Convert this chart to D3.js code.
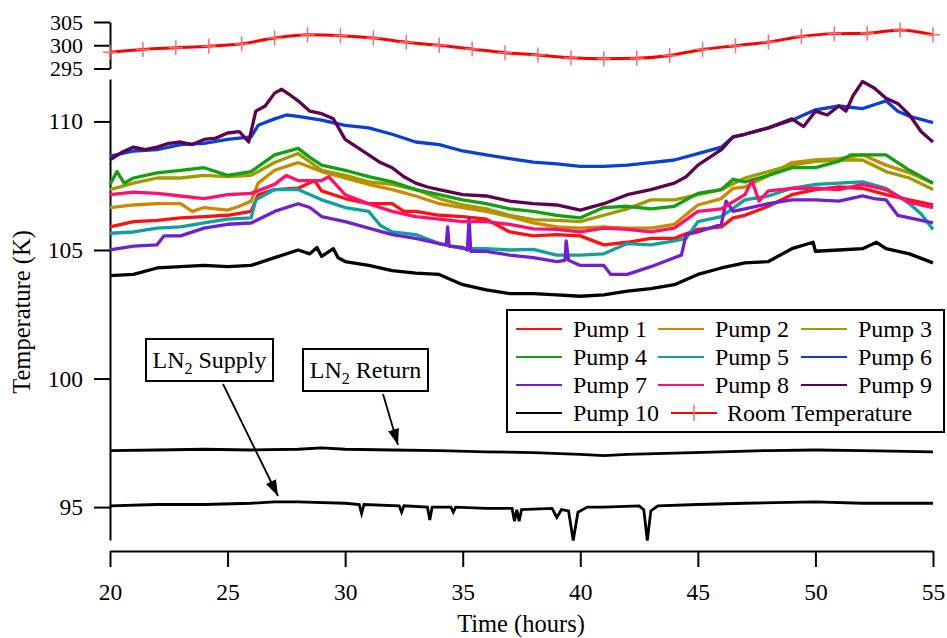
<!DOCTYPE html>
<html><head><meta charset="utf-8">
<script src="https://cdn.jsdelivr.net/npm/d3@7"></script>
<style>
body{margin:0;background:#fff;}
</style></head>
<body><svg id="c" width="947" height="638"></svg>
<script>
const pumpNames = ["Pump 1","Pump 2","Pump 3","Pump 4","Pump 5","Pump 6","Pump 7","Pump 8","Pump 9","Pump 10"];
const pumpColors = ["#ff1010","#cc8800","#a09a00","#10a010","#10a0a0","#0a40d8","#7020d0","#ff1070","#600050","#000000"];
const xTicks = [20,25,30,35,40,45,50,55];
const yTicks = [95,100,105,110];
const roomTicks = [295,300,305];

const pump1 = [[20,105.9],[21,106.1],[22,106.15],[23,106.25],[24,106.3],[25,106.35],[26,106.5],[26.3,107.15],[27,107.35],[28,107.4],[28.7,107.7],[29,107.3],[30,107.0],[31,106.8],[32,106.8],[32.5,106.5],[33,106.5],[34,106.35],[35,106.3],[36,106.2],[37,105.7],[38,105.55],[39,105.6],[40,105.55],[41,105.2],[42,105.3],[43,105.45],[44,105.45],[45,105.8],[46,105.9],[46.5,106.25],[47,106.35],[48,106.7],[49,107.15],[50,107.35],[51,107.45],[52,107.4],[53,107.15],[54,106.95],[55,106.75]];
const pump2 = [[20,106.65],[21,106.75],[22,106.8],[23,106.8],[23.5,106.5],[24,106.65],[25,106.55],[25.5,106.7],[26,106.9],[26.3,107.6],[27,108.1],[28,108.4],[29,108.05],[30,107.8],[31,107.55],[32,107.35],[33,107.1],[34,106.8],[35,106.65],[36,106.5],[37,106.3],[38,106.05],[39,105.9],[40,105.85],[41,105.9],[42,105.85],[43,105.85],[44,106.0],[45,106.75],[46,107.0],[46.5,107.4],[47,107.45],[48,107.9],[49,108.4],[50,108.5],[51,108.55],[52,108.7],[53,108.3],[54,108.0],[55,107.6]];
const pump3 = [[20,107.35],[21,107.6],[22,107.8],[23,107.8],[24,107.9],[25,107.85],[26,107.9],[27,108.4],[28,108.75],[29,108.1],[30,107.9],[31,107.65],[32,107.55],[33,107.35],[34,107.0],[35,106.75],[36,106.6],[37,106.35],[38,106.18],[39,106.15],[40,106.1],[41,106.35],[42,106.6],[43,106.95],[44,106.95],[45,107.15],[46,107.35],[47,107.8],[48,108.05],[49,108.3],[50,108.45],[51,108.5],[52,108.5],[53,108.05],[54,107.8],[55,107.35]];
const pump4 = [[20,107.55],[20.3,108.05],[20.6,107.6],[21,107.8],[22,108.0],[23,108.1],[24,108.2],[25,107.9],[26,108.05],[27,108.7],[28,108.95],[28.5,108.6],[29,108.3],[30,108.1],[31,107.85],[32,107.65],[33,107.35],[34,107.15],[35,106.95],[36,106.8],[37,106.6],[38,106.5],[39,106.35],[40,106.25],[41,106.65],[42,106.7],[43,106.6],[44,106.7],[45,107.2],[46,107.35],[46.5,107.75],[47,107.65],[48,107.9],[49,108.2],[50,108.2],[51,108.45],[51.5,108.7],[52,108.7],[53,108.7],[53.5,108.4],[54,108.1],[55,107.6]];
const pump5 = [[20,105.65],[21,105.7],[22,105.85],[23,105.9],[24,106.05],[25,106.2],[26,106.25],[26.2,106.95],[27,107.35],[28,107.35],[29,106.95],[30,106.65],[31,106.5],[31.5,105.95],[32,105.7],[33,105.6],[34,105.25],[35,105.05],[36,105.05],[37,105.0],[38,105.02],[39,104.8],[40,104.8],[41,104.85],[42,105.25],[43,105.2],[44,105.35],[44.5,105.45],[45,106.1],[46,106.3],[47,106.95],[48,107.1],[49,107.4],[50,107.55],[51,107.6],[52,107.65],[53,107.4],[54,106.8],[54.5,106.4],[55,105.8]];
const pump6 = [[20,108.65],[21,108.85],[22,108.9],[23,109.1],[24,109.15],[25,109.3],[26,109.4],[26.3,109.85],[27,110.1],[27.5,110.25],[28,110.2],[29,110.05],[30,109.85],[31,109.75],[32,109.5],[33,109.2],[34,109.1],[35,108.85],[36,108.7],[37,108.55],[38,108.42],[39,108.35],[40,108.25],[41,108.25],[42,108.3],[43,108.4],[44,108.5],[45,108.75],[46,109.0],[46.5,109.4],[47,109.5],[48,109.75],[49,110.05],[50,110.45],[51,110.6],[52,110.5],[52.5,110.65],[53,110.8],[53.5,110.4],[54,110.2],[55,109.95]];
const pump7 = [[20,105.0],[21,105.15],[22,105.2],[22.3,105.55],[23,105.55],[24,105.85],[25,106.0],[26,106.05],[27,106.5],[28,106.8],[28.5,106.65],[29,106.3],[30,106.1],[31,105.85],[32,105.6],[33,105.45],[34,105.25],[34.3,105.2],[34.36,105.9],[34.42,105.15],[35,105.1],[35.2,105.0],[35.27,106.25],[35.34,104.95],[36,104.95],[37,104.8],[38,104.7],[39,104.55],[39.35,104.6],[39.4,105.35],[39.5,104.6],[40,104.4],[41,104.4],[41.3,104.05],[42,104.05],[43,104.35],[44,104.7],[44.3,104.8],[44.5,105.6],[45,105.7],[46,106.0],[46.2,106.9],[46.5,106.5],[47,106.6],[48,106.8],[49,106.95],[50,106.95],[51,106.9],[52,107.1],[52.5,107.0],[53,106.95],[53.5,106.35],[54,106.25],[55,106.05]];
const pump8 = [[20,107.15],[21,107.25],[22,107.2],[23,107.1],[24,107.0],[25,107.15],[26,107.2],[27,107.55],[27.5,107.9],[28,107.7],[29,107.7],[29.3,107.85],[30,107.15],[31,106.8],[32,106.5],[33,106.3],[34,106.2],[35,106.1],[36,106.1],[37,106.0],[38,105.82],[39,105.8],[40,105.7],[41,105.85],[42,105.8],[43,105.7],[44,105.85],[45,106.5],[46,106.6],[47,107.15],[47.3,107.7],[47.6,106.9],[48,107.3],[49,107.4],[50,107.4],[51,107.35],[52,107.55],[53,107.35],[54,106.85],[55,106.65]];
const pump9 = [[20,108.5],[20.5,108.8],[21,109.0],[21.5,108.9],[22,109.0],[22.5,109.15],[23,109.2],[23.5,109.1],[24,109.3],[24.5,109.35],[25,109.55],[25.5,109.6],[25.9,109.2],[26.2,110.4],[26.6,110.6],[27,111.1],[27.3,111.25],[27.7,111.0],[28,110.8],[28.5,110.4],[29,110.3],[29.5,110.1],[30,109.3],[30.5,109.0],[31,108.7],[31.5,108.4],[32,108.2],[32.5,107.85],[33,107.6],[33.5,107.45],[34,107.35],[35,107.15],[36,107.1],[37,106.9],[38,106.8],[39,106.75],[40,106.55],[41,106.8],[42,107.15],[43,107.35],[44,107.6],[44.5,107.85],[45,108.3],[46,108.9],[46.5,109.4],[47,109.5],[48,109.75],[49,110.1],[49.5,109.8],[50,110.4],[50.5,110.25],[51,110.6],[51.3,110.4],[51.6,111.0],[52,111.55],[52.5,111.3],[53,110.9],[53.5,110.7],[54,110.25],[54.5,109.6],[55,109.2]];
const pump10 = [[20,104.0],[21,104.05],[22,104.3],[23,104.35],[24,104.4],[25,104.35],[26,104.4],[27,104.7],[28,105.0],[28.5,104.85],[28.8,105.1],[29,104.75],[29.5,105.05],[29.7,104.7],[30,104.55],[31,104.4],[32,104.2],[33,104.1],[34,104.05],[35,103.65],[36,103.45],[37,103.3],[38,103.3],[39,103.25],[40,103.2],[41,103.25],[42,103.4],[43,103.5],[44,103.65],[45,104.05],[46,104.3],[47,104.5],[48,104.55],[49,105.05],[49.9,105.3],[50,104.95],[51,105.0],[52,105.05],[52.6,105.3],[53,105.05],[54,104.85],[55,104.5]];
const pumps = [pump1,pump2,pump3,pump4,pump5,pump6,pump7,pump8,pump9,pump10];

const ln2Return = [[20,97.2],[22,97.22],[24,97.25],[26,97.22],[28,97.25],[29,97.3],[30,97.25],[32,97.22],[34,97.2],[36,97.15],[38,97.12],[40,97.05],[41,97.0],[42,97.05],[44,97.1],[46,97.15],[48,97.2],[50,97.22],[52,97.2],[55,97.15]];
const ln2Supply = [[20,95.05],[22,95.1],[24,95.1],[26,95.15],[27,95.2],[28,95.2],[30,95.15],[30.6,95.1],[30.7,94.75],[30.8,95.1],[32.3,95.05],[32.4,94.8],[32.5,95.05],[33.5,95.0],[33.6,94.5],[33.7,95.0],[34.5,95.0],[34.6,94.8],[34.7,95.0],[36,94.95],[37.1,94.95],[37.2,94.45],[37.3,94.9],[37.4,94.45],[37.5,94.9],[38.8,94.95],[39.0,94.6],[39.2,94.9],[39.5,94.85],[39.7,93.7],[39.9,94.8],[40.3,95.0],[41,95.0],[42.5,95.05],[42.7,94.9],[42.85,93.7],[43.0,94.85],[43.3,95.05],[45,95.1],[47,95.15],[50,95.2],[52,95.15],[55,95.15]];

const roomHours = [20,21.4,22.8,24.2,25.6,27,28.4,29.8,31.2,32.6,34,35.4,36.8,38.2,39.6,41,42.4,43.8,45.2,46.6,48,49.4,50.8,52.2,53.6,55];
const roomTemp = [298.5,299.1,299.45,299.8,300.3,301.55,302.25,302.05,301.55,300.65,300.0,299.2,298.4,297.9,297.3,297.1,297.2,297.8,299.1,299.9,300.7,301.9,302.5,302.6,303.3,302.25];

const FONT = "'Liberation Serif', 'Times New Roman', serif";
const svg = d3.select("#c");
const x = d3.scaleLinear().domain([20,55]).range([110,933]);
const y = d3.scaleLinear().domain([93.72,111.65]).range([540,79]);
const yR = d3.scaleLinear().domain([295,305]).range([68.5,22]);

function styleAxis(g, fs){
  g.attr("font-family",null).attr("font-size",null);
  g.selectAll("path.domain").attr("stroke","#000").attr("stroke-width",2);
  g.selectAll(".tick line").attr("stroke","#000").attr("stroke-width",2);
  g.selectAll(".tick text").attr("font-size",fs);
}
svg.append("g").attr("transform","translate(0,551)")
  .call(d3.axisBottom(x).tickValues(xTicks).tickSize(16).tickSizeOuter(0).tickPadding(16))
  .call(styleAxis, 23.5);
svg.append("g").attr("transform","translate(110,0)")
  .call(d3.axisLeft(y).tickValues(yTicks).tickSize(16).tickSizeOuter(0).tickPadding(11))
  .call(styleAxis, 23.5);
svg.append("g").attr("transform","translate(110,0)")
  .call(d3.axisLeft(yR).tickValues(roomTicks).tickSize(16).tickSizeOuter(0).tickPadding(11))
  .call(styleAxis, 22);

svg.append("text").attr("x",521).attr("y",632).attr("text-anchor","middle").attr("font-size",24.5).text("Time (hours)");
svg.append("text").attr("transform","translate(30,312) rotate(-90)").attr("text-anchor","middle").attr("font-size",24.5).text("Temperature (K)");

const line = d3.line().x(d=>x(d[0])).y(d=>y(d[1]));
svg.append("path").datum(ln2Return).attr("d",line).attr("fill","none").attr("stroke","#000").attr("stroke-width",2.8);
svg.append("path").datum(ln2Supply).attr("d",line).attr("fill","none").attr("stroke","#000").attr("stroke-width",2.8);
pumps.forEach((p,i)=>{
  svg.append("path").datum(p).attr("d",line).attr("fill","none")
    .attr("stroke",pumpColors[i]).attr("stroke-width",3.3).attr("stroke-linejoin","round");
});

// room temperature
const roomData = roomHours.map((h,i)=>[h,roomTemp[i]]);
const lineR = d3.line().x(d=>x(d[0])).y(d=>yR(d[1])).curve(d3.curveMonotoneX);
svg.append("path").datum(roomData).attr("d",lineR).attr("fill","none").attr("stroke","#ff0000").attr("stroke-width",3);
const mk = svg.append("g");
roomData.forEach(d=>{
  const cx=x(d[0]), cy=yR(d[1]);
  mk.append("line").attr("x1",cx).attr("x2",cx).attr("y1",cy-7.5).attr("y2",cy+7.5).attr("stroke","#ff6a6a").attr("stroke-width",1.5);
  mk.append("line").attr("x1",cx-7).attr("x2",cx+7).attr("y1",cy).attr("y2",cy).attr("stroke","#ff6a6a").attr("stroke-width",1.5);
});

// legend
const lg = svg.append("g");
lg.append("rect").attr("x",507).attr("y",310).attr("width",437).attr("height",122).attr("fill","#fff").attr("stroke","#000").attr("stroke-width",2);
const colLine=[516,658,801], colText=[573,715,858];
pumpNames.forEach((n,i)=>{
  const r=Math.floor(i/3), c=i%3;
  const cy=329+r*28;
  lg.append("line").attr("x1",colLine[c]).attr("x2",colLine[c]+46).attr("y1",cy).attr("y2",cy).attr("stroke",pumpColors[i]).attr("stroke-width",1.8);
  lg.append("text").attr("x",colText[c]).attr("y",cy+8).attr("font-size",24).text(n);
});
{
  const cy=329+3*28;
  lg.append("line").attr("x1",671).attr("x2",717).attr("y1",cy).attr("y2",cy).attr("stroke","#ff0000").attr("stroke-width",1.8);
  lg.append("line").attr("x1",694).attr("x2",694).attr("y1",cy-8).attr("y2",cy+8).attr("stroke","#ff6a6a").attr("stroke-width",1.5);
  lg.append("text").attr("x",727).attr("y",cy+8).attr("font-size",24).text("Room Temperature");
}

// annotations
const defs = svg.append("defs");
defs.append("marker").attr("id","ah").attr("viewBox","0 0 10 10").attr("refX",10).attr("refY",5)
  .attr("markerWidth",16).attr("markerHeight",16).attr("markerUnits","userSpaceOnUse").attr("orient","auto")
  .append("path").attr("d","M0,1.5 L10,5 L0,8.5 Z").attr("fill","#000");
function label(bx,by,bw,bh,name,ax1,ay1,ax2,ay2){
  svg.append("rect").attr("x",bx).attr("y",by).attr("width",bw).attr("height",bh).attr("fill","#fff").attr("stroke","#000").attr("stroke-width",2);
  const t=svg.append("text").attr("x",bx+bw/2).attr("y",by+29).attr("text-anchor","middle").attr("font-size",24);
  t.append("tspan").text("LN");
  t.append("tspan").attr("font-size",16).attr("dy",6).text("2");
  t.append("tspan").attr("dy",-6).text(" "+name);
  svg.append("line").attr("x1",ax1).attr("y1",ay1).attr("x2",ax2).attr("y2",ay2).attr("stroke","#000").attr("stroke-width",1.8).attr("marker-end","url(#ah)");
}
label(146,339,127,42,"Supply",223,384,278,496);
label(303,349,125,42,"Return",383,394,398,445);

svg.selectAll("text").style("font-family",FONT).style("fill","#000");
</script></body></html>
